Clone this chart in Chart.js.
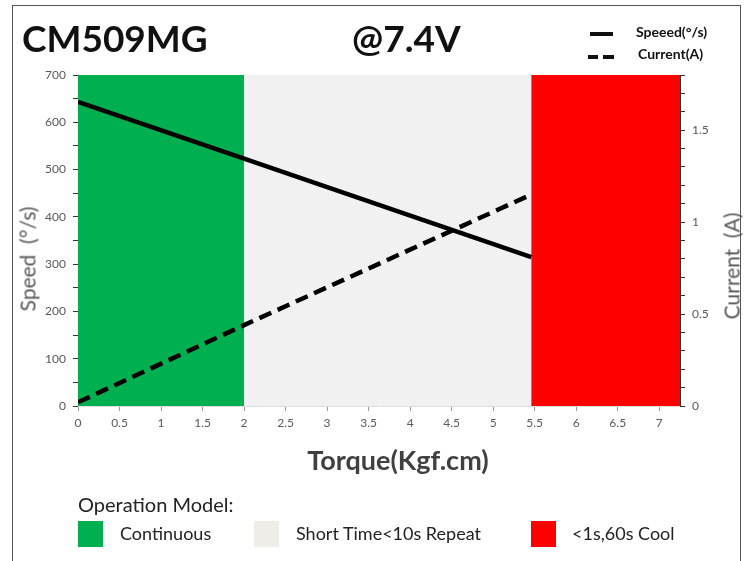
<!DOCTYPE html>
<html>
<head>
<meta charset="utf-8">
<script src="https://cdn.jsdelivr.net/npm/chart.js@4.4.1/dist/chart.umd.min.js"></script>
<style>
    html, body { margin: 0; padding: 0; background: #fff; }
    body { width: 749px; height: 561px; position: relative; overflow: hidden; font-family: Lato, 'Open Sans', sans-serif; }
    #frame { position: absolute; left: 12px; top: 5px; width: 729px; height: 570px; border: 1.5px solid #555; box-sizing: border-box; }
    #wrap { position: absolute; left: 0; top: 0; width: 749px; height: 561px; }
    .t { position: absolute; white-space: nowrap; }
    .title { font-weight: 700; font-size: 37px; color: #111; top: 15px; }
    .lg { font-weight: 700; font-size: 14px; color: #111; }
    .axt { font-size: 21px; color: #595959; }
    .sw { position: absolute; width: 25px; height: 26px; top: 521px; }
    .op { font-size: 18px; color: #222; top: 522px; }
</style>
</head>
<body>
<div id="frame"></div>
<div id="wrap"><canvas id="chart" width="749" height="561"></canvas></div>

<div class="t title" style="left:22px;">CM509MG</div>
<div class="t title" style="left:352px;">@7.4V</div>

<div style="position:absolute;left:590px;top:32px;width:23px;height:4px;background:#111;"></div>
<div class="t lg" style="left:636px;top:23px;">Speeed(°/s)</div>
<div style="position:absolute;left:588px;top:55px;width:10px;height:4px;background:#111;"></div>
<div style="position:absolute;left:603px;top:55px;width:11px;height:4px;background:#111;"></div>
<div class="t lg" style="left:638px;top:45px;">Current(A)</div>

<div class="t axt" style="left:27px;top:259px;transform:translate(-50%,-50%) rotate(-90deg);">Speed&nbsp;&nbsp;(°/s)</div>
<div class="t axt" style="left:731px;top:266px;transform:translate(-50%,-50%) rotate(-90deg);">Current&nbsp;&nbsp;(A)</div>
<div class="t" style="left:398px;top:459px;transform:translate(-50%,-50%);font-size:27px;font-weight:700;color:#404040;">Torque(Kgf.cm)</div>

<div class="t" style="left:78px;top:492px;font-size:20px;color:#222;">Operation Model:</div>
<div class="sw" style="left:78px;background:#00b050;"></div>
<div class="t op" style="left:120px;">Continuous</div>
<div class="sw" style="left:254px;background:#eeede8;"></div>
<div class="t op" style="left:296px;">Short Time&lt;10s Repeat</div>
<div class="sw" style="left:531px;background:#ff0000;"></div>
<div class="t op" style="left:572px;">&lt;1s,60s Cool</div>

<script>
    // torque (Kgf.cm) points of the two curves
    var torque = [0, 2, 5.46];
    var speed = [643, 523, 315];
    var current = [0.02, 0.44, 1.15];

    // operation zones along the torque axis
    var zoneStart = [0, 2, 5.46];
    var zoneEnd = [2, 5.46, 7.25];
    var zoneColor = ['#00b050', '#f1f1f1', '#ff0000'];

    // axis ticks
    var torqueTicks = [0, 0.5, 1, 1.5, 2, 2.5, 3, 3.5, 4, 4.5, 5, 5.5, 6, 6.5, 7];
    var xMax = 7.25;
    var speedMax = 700;
    var currentMax = 1.8;

    function pts(ys) {
        return torque.map(function (t, i) { return { x: t, y: ys[i] }; });
    }

    var zonesPlugin = {
        id: 'zones',
        beforeDatasetsDraw: function (chart) {
            var ctx = chart.ctx, x = chart.scales.x, y = chart.scales.y;
            ctx.save();
            zoneStart.forEach(function (s, i) {
                var x0 = x.getPixelForValue(s), x1 = x.getPixelForValue(zoneEnd[i]);
                ctx.fillStyle = zoneColor[i];
                ctx.fillRect(x0, y.top, x1 - x0, y.bottom - y.top);
            });
            ctx.restore();
        }
    };

    var tickFont = { family: 'Lato, "Open Sans", sans-serif', size: 12 };

    new Chart(document.getElementById('chart'), {
        type: 'line',
        data: {
            datasets: [
                { label: 'Speeed(°/s)', data: pts(speed), yAxisID: 'y', borderColor: '#000', borderWidth: 4.5, pointRadius: 0, tension: 0 },
                { label: 'Current(A)', data: pts(current), yAxisID: 'y1', borderColor: '#000', borderWidth: 4.5, borderDash: [13, 7], pointRadius: 0, tension: 0 }
            ]
        },
        options: {
            responsive: false,
            animation: false,
            layout: { padding: { left: 38, right: 29, top: 75, bottom: 130 } },
            plugins: { legend: { display: false }, tooltip: { enabled: false } },
            scales: {
                x: {
                    type: 'linear', min: 0, max: xMax,
                    afterFit: function (s) { s.height = 25; },
                    afterBuildTicks: function (s) { s.ticks = torqueTicks.map(function (v) { return { value: v }; }); },
                    ticks: { autoSkip: false, color: '#595959', font: tickFont, padding: 5, maxRotation: 0,
                        callback: function (v) { return String(v); } },
                    grid: { drawOnChartArea: false, tickLength: 5, color: '#999' },
                    border: { display: true, color: '#ddd' }
                },
                y: {
                    position: 'left', min: 0, max: speedMax,
                    afterFit: function (s) { s.width = 40; },
                    ticks: { stepSize: 50, color: '#595959', font: tickFont, padding: 7,
                        callback: function (v) { return v % 100 === 0 ? v : ''; } },
                    grid: { drawOnChartArea: false, tickLength: 5, color: '#333' },
                    border: { display: false }
                },
                y1: {
                    position: 'right', min: 0, max: currentMax,
                    afterFit: function (s) { s.width = 40; },
                    ticks: { stepSize: 0.1, color: '#595959', font: tickFont, padding: 7,
                        callback: function (v) { var k = Math.round(v * 10); return k % 5 === 0 && k < 18 ? String(k / 10) : ''; } },
                    grid: { drawOnChartArea: false, tickLength: 5, color: '#333' },
                    border: { display: true, color: '#333' }
                }
            }
        },
        plugins: [zonesPlugin]
    });
</script>
</body>
</html>
